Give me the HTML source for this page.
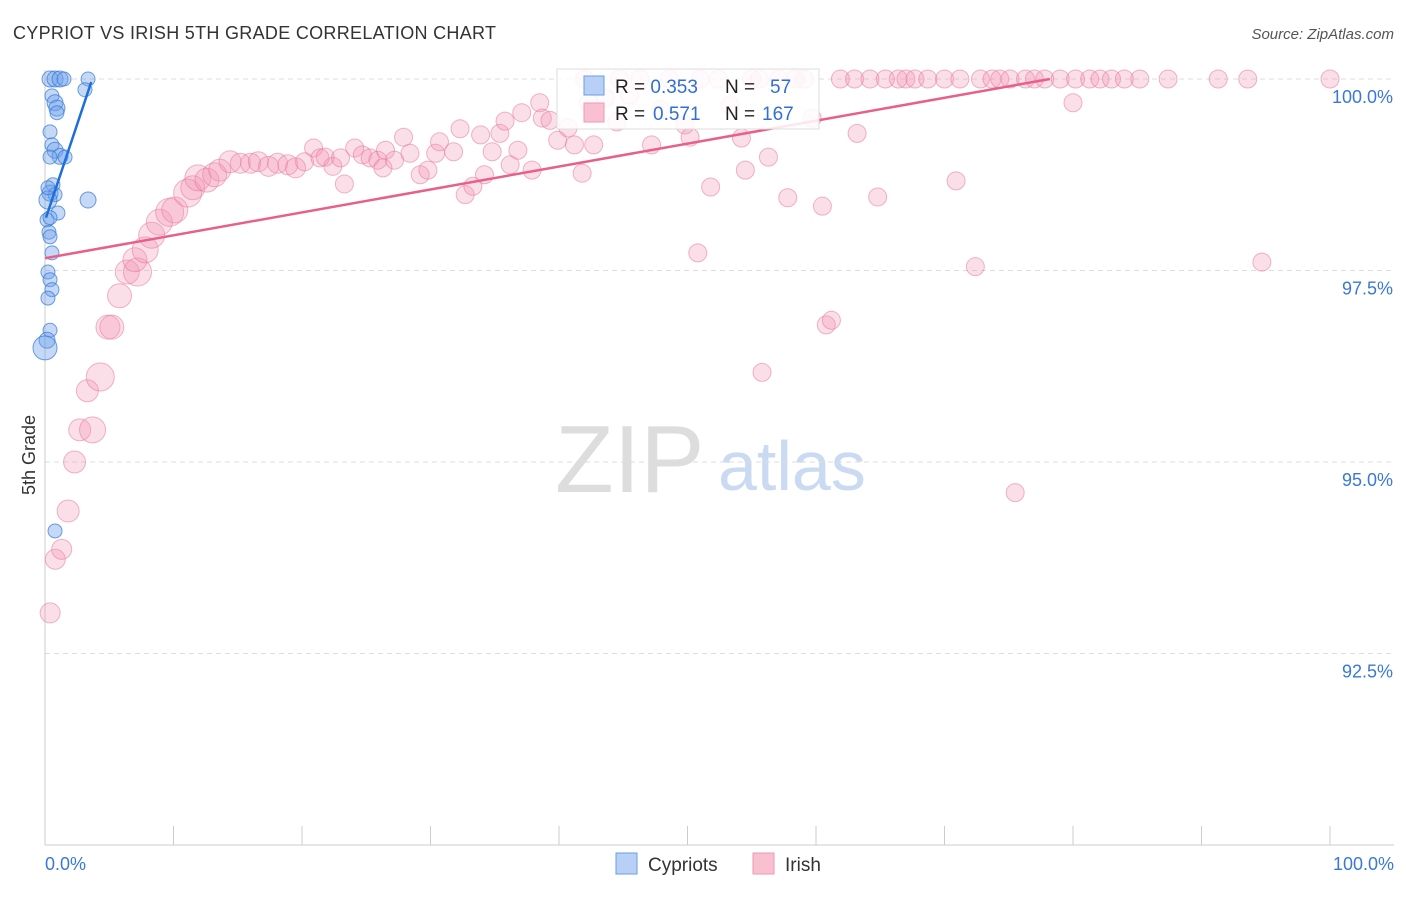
<!DOCTYPE html>
<html><head><meta charset="utf-8"><style>
body{margin:0;background:#fff;font-family:"Liberation Sans",sans-serif;}
svg text{font-family:"Liberation Sans",sans-serif;}
</style></head><body>
<svg id="chart" width="1406" height="892">
<text x="13" y="39" font-size="18" fill="#333" letter-spacing="0.3">CYPRIOT VS IRISH 5TH GRADE CORRELATION CHART</text>
<text x="1394" y="39" font-size="15" fill="#555" font-style="italic" text-anchor="end">Source: ZipAtlas.com</text>
<text x="555" y="492" font-size="96" fill="#ddd" font-family="Liberation Serif">ZIP</text>
<text x="718" y="490" font-size="70" fill="#c9daf2">atlas</text>
<text x="35" y="455" font-size="18" fill="#333" transform="rotate(-90 35 455)" text-anchor="middle">5th Grade</text>
<g id="grid"></g><g id="pts"></g><g id="lines"></g>
<g>
<rect x="557" y="69" width="262" height="60" fill="#fff" fill-opacity="0.85" stroke="#ddd"/>
<rect x="584" y="76" width="20" height="19" fill="#b8d0f5" stroke="#6a9ee6"/>
<rect x="584" y="103" width="20" height="19" fill="#f8c0d0" stroke="#ee9ab4"/>
<text x="615" y="93" font-size="19" fill="#222">R = <tspan fill="#2f6fd6">0.353</tspan><tspan x="725">N =</tspan><tspan x="770" fill="#2f6fd6">57</tspan></text>
<text x="615" y="120" font-size="19" fill="#222">R = <tspan x="653" fill="#2f6fd6">0.571</tspan><tspan x="725">N =</tspan><tspan x="762" fill="#2f6fd6">167</tspan></text>
</g>
<g>
<rect x="616" y="853" width="21" height="21" fill="#b8d0f5" stroke="#6a9ee6"/>
<text x="648" y="871" font-size="19" fill="#333">Cypriots</text>
<rect x="753" y="853" width="21" height="21" fill="#f8c0d0" stroke="#ee9ab4"/>
<text x="785" y="871" font-size="19" fill="#333">Irish</text>
</g>
</svg>
<script>
const yTicks=[100,97.5,95,92.5];
const yTickLabels=["100.0%","97.5%","95.0%","92.5%"];
const xTickLabels=["0.0%","100.0%"];
const blueX=[0.39,0.78,1.17,1.48,3.35,3.11,0.54,0.78,0.93,0.93,0.39,0.54,0.78,1.17,1.56,0.39,0.62,0.39,0.78,1.01,3.35,0.23,0.16,0.31,0.39,0.54,0.23,0.39,0.54,0.23,0.39,0.16,0,0.78,0.39,0.23];
const blueY=[100,100,100,100,100,99.86,99.78,99.69,99.62,99.56,99.31,99.14,99.07,98.99,98.98,98.98,98.62,98.51,98.49,98.25,98.42,98.42,98.16,98.0,97.94,97.73,97.48,97.38,97.25,97.14,96.72,96.59,96.49,94.10,98.19,98.58];
const blueR=[8,8,8,7,7,7,7,8,8,7,7,7,8,8,7,7,7,8,7,7,8,9,7,7,7,7,7,7,7,7,7,8,12,7,7,7];
const pinkX=[0.4,0.8,1.3,1.8,2.3,2.7,3.7,3.3,4.3,4.9,5.2,5.8,6.4,7.2,7.0,7.8,8.3,8.9,9.7,10.1,11.1,11.5,11.9,12.6,13.2,13.6,14.4,15.2,16.0,16.6,17.4,18.1,18.9,19.5,20.2,20.9,21.4,21.8,22.4,23.3,23.0,24.1,24.7,25.3,25.9,26.5,26.3,27.2,27.9,28.4,29.2,29.8,30.4,30.7,31.8,32.3,32.7,33.3,33.9,34.2,34.8,35.4,35.8,36.2,36.8,37.1,37.9,38.5,38.7,39.3,39.9,40.7,41.2,41.8,42.3,42.7,43.6,44.5,45.5,46.3,47.2,47.9,48.6,49.8,50.2,50.8,51.8,52.4,53.3,54.2,54.5,55.0,55.8,56.3,57.1,57.8,58.4,59.7,60.5,60.8,61.2,61.9,63.0,63.2,64.2,64.8,65.4,66.4,67.0,67.7,68.7,70.0,70.9,71.2,72.4,72.8,73.7,74.3,75.1,75.5,76.3,77.0,77.8,79.0,80.0,80.2,81.3,82.1,83.0,84.0,85.2,87.4,91.3,93.6,94.7,100,42.0,44.7,51.0,55.6,59.1];
const pinkY=[93.03,93.73,93.86,94.36,95.0,95.42,95.42,95.93,96.11,96.76,96.76,97.17,97.48,97.48,97.64,97.77,97.96,98.13,98.26,98.29,98.51,98.58,98.71,98.68,98.75,98.81,98.92,98.90,98.90,98.92,98.86,98.90,98.88,98.84,98.92,99.10,98.97,98.98,98.86,98.63,98.97,99.10,99.01,98.97,98.94,99.07,98.84,98.94,99.24,99.03,98.75,98.81,99.03,99.18,99.05,99.35,98.49,98.60,99.27,98.75,99.05,99.29,99.45,98.88,99.07,99.56,98.81,99.69,99.49,99.46,99.20,99.36,99.14,98.77,99.69,99.14,99.75,99.44,99.79,100,99.14,99.60,100,99.40,99.24,97.73,98.59,100,99.66,99.23,98.81,100,96.17,98.98,100,98.45,100,99.49,98.34,96.79,96.85,100,100,99.29,100,98.46,100,100,100,100,100,100,98.67,100,97.55,100,100,100,100,94.6,100,100,100,100,99.69,100,100,100,100,100,100,100,100,100,97.61,100,100,100,100,100,100];
const pinkR=[10,10,10,11,11,11,13,11,14,12,12,12,12,14,12,13,13,13,14,13,14,12,13,12,12,11,11,10,10,10,10,10,10,10];
const blueTrend=[[0.08,98.19],[3.6,99.96]];
const pinkTrend=[[0,97.66],[78.2,100]];
const X=v=>45+v*12.85, Y=v=>79+(100-v)*76.6;
const NS="http://www.w3.org/2000/svg";
function mk(t,a,p){const e=document.createElementNS(NS,t);for(const k in a)e.setAttribute(k,a[k]);p.appendChild(e);return e;}
const grid=document.getElementById('grid');
yTicks.forEach((t,i)=>{
 const l=mk('line',{x1:45,x2:1394,y1:Y(t),y2:Y(t),stroke:'#ddd','stroke-dasharray':'5,4'},grid);
 
 
 const tx=mk('text',{x:1393,y:Y(t)+24,'font-size':18,fill:'#3a78d8','text-anchor':'end'},grid);tx.textContent=yTickLabels[i];
 
 
});
const ax=mk('line',{x1:45,x2:1394,y1:845,y2:845,stroke:'#ccc'},grid);


const ay=mk('line',{x1:45,x2:45,y1:70,y2:845,stroke:'#ccc'},grid);


for(let i=0;i<=10;i++){const t=mk('line',{x1:X(i*10),x2:X(i*10),y1:826,y2:845,stroke:'#ccc'},grid);
 
 }
[[0,'start',45],[100,'end',1394]].forEach((d,i)=>{const t=mk('text',{x:d[2],y:870,'font-size':18,fill:'#3a78d8','text-anchor':d[1]},grid);t.textContent=xTickLabels[i];
 
 });
const pts=document.getElementById('pts');
pinkX.forEach((x,i)=>{const c=mk('circle',{cx:X(x),cy:Y(pinkY[i]),r:pinkR[i]||9,fill:'rgba(242,150,178,0.3)',stroke:'rgba(232,120,155,0.55)'},pts);
 
 });
blueX.forEach((x,i)=>{const c=mk('circle',{cx:X(x),cy:Y(blueY[i]),r:blueR[i],fill:'rgba(110,160,235,0.4)',stroke:'rgba(50,120,215,0.7)'},pts);
 
 });
const lines=document.getElementById('lines');
const bl=mk('line',{x1:X(blueTrend[0][0]),y1:Y(blueTrend[0][1]),x2:X(blueTrend[1][0]),y2:Y(blueTrend[1][1]),stroke:'#1f6fd6','stroke-width':2.5},lines);


const pl=mk('line',{x1:X(pinkTrend[0][0]),y1:Y(pinkTrend[0][1]),x2:X(pinkTrend[1][0]),y2:Y(pinkTrend[1][1]),stroke:'#e8608a','stroke-width':2.5},lines);


</script>
</body></html>
